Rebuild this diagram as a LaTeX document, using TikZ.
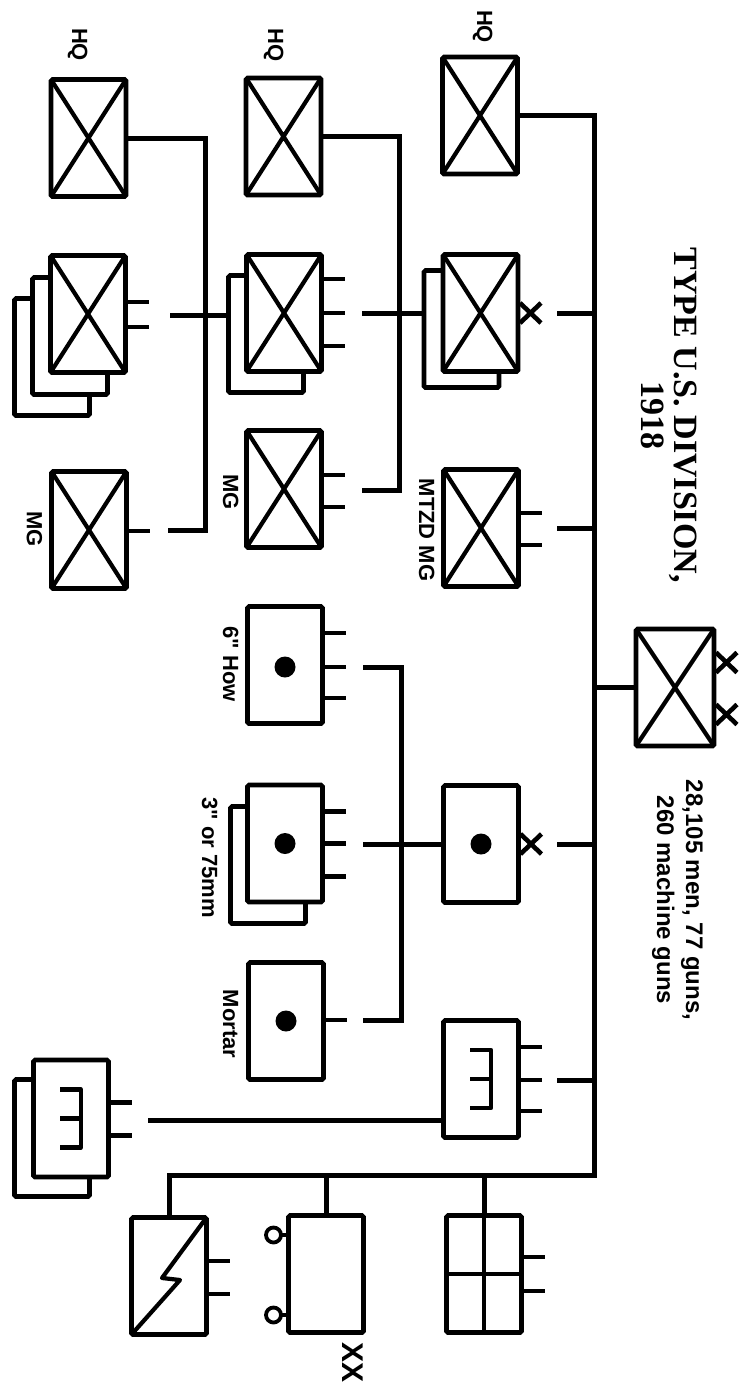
\documentclass[tikz,border=0pt]{standalone}
\usepackage{fontspec}
\setmainfont{Liberation Serif}
\newfontfamily\labfont{Liberation Sans}
\begin{document}
\begin{tikzpicture}[x=1pt,y=-1pt,
  unit/.style={draw, line width=4.6pt, fill=white, minimum width=75pt, minimum height=117pt, inner sep=0pt, outer sep=0pt, rounded corners=1.5pt},
  bus/.style={line width=5pt},
  stub/.style={line width=4.6pt},
  xline/.style={line width=4.2pt},
  symline/.style={line width=4.2pt, line join=round},
  lab/.style={font=\labfont\bfseries\fontsize{22}{24}\selectfont, rotate=-90, anchor=base, inner sep=0pt},
  stat/.style={font=\labfont\bfseries\fontsize{24}{26}\selectfont, rotate=-90, anchor=base, inner sep=0pt},
  ttl/.style={font=\bfseries\fontsize{34}{36}\selectfont, rotate=-90, anchor=base, inner sep=0pt}
]
\newcommand\infcross[1]{\draw[xline] (#1.north west) -- (#1.south east) (#1.north east) -- (#1.south west);}
\newcommand\sizebars[2]{\foreach \d in {#2}{\draw[stub] ([shift={(0,\d)}]#1.east) -- ++(23,0);}}
\newcommand\bdex[2]{\draw[stub] ([shift={(2,#2-10)}]#1.east) -- ++(21,20) ([shift={(2,#2+10)}]#1.east) -- ++(21,-20);}
\newcommand\engsym[1]{\draw[symline] ([shift={(-11,-29)}]#1.center) -- ([shift={(10,-29)}]#1.center) -- ([shift={(10,29)}]#1.center) -- ([shift={(-11,29)}]#1.center) ([shift={(-11,0)}]#1.center) -- ([shift={(10,0)}]#1.center);}
\useasboundingbox (0,0) rectangle (748,1387);
\fill[white] (0,0) rectangle (748,1387);

% ---------- left column (regiment) ----------
\node[unit] (LBn3) at (52,357) {};
\node[unit] (LBn2) at (70,336) {};
\node[unit] (LBn) at (88,314) {};
\node[unit] (LHQ) at (88.5,138) {};
\node[unit] (LMG) at (89,530) {};
% ---------- middle column (brigade, artillery) ----------
\node[unit] (MHQ) at (283.5,136.5) {};
\node[unit] (MRegt2) at (266,334) {};
\node[unit] (MRegt) at (284,313) {};
\node[unit] (MMG) at (284,489) {};
\node[unit] (How) at (285,665) {};
\node[unit] (Gun2) at (268,865) {};
\node[unit] (Gun) at (285,843.5) {};
\node[unit] (Mortar) at (286,1021) {};
% ---------- right column (division) ----------
\node[unit] (RHQ) at (480,115.5) {};
\node[unit] (Bde2) at (461.5,329) {};
\node[unit] (Bde) at (480.5,313) {};
\node[unit] (MTZD) at (481,528) {};
\node[unit] (ArtyBde) at (481,844) {};
\node[unit] (Engr) at (481,1079) {};
\node[unit] (Grid) at (484,1274) {};
% ---------- bottom ----------
\node[unit] (EngrBn2) at (52,1138) {};
\node[unit] (EngrBn) at (71,1118.5) {};
\node[unit] (Signal) at (169,1276) {};
\node[unit] (Train) at (326,1274) {};
% ---------- division ----------
\node[unit, minimum width=78pt, minimum height=117pt] (Div) at (675,687.5) {};

% crosses
\infcross{LHQ}\infcross{LBn}\infcross{LMG}
\infcross{MHQ}\infcross{MRegt}\infcross{MMG}
\infcross{RHQ}\infcross{Bde}\infcross{MTZD}\infcross{Div}

% size markers
\sizebars{LBn}{-12,13}
\sizebars{LMG}{1}
\sizebars{MRegt}{-34,0,33}
\sizebars{MMG}{-14,18}
\sizebars{How}{-32,2,33}
\sizebars{Gun}{-32,0,33}
\sizebars{Mortar}{-1}
\sizebars{MTZD}{-15,17}
\sizebars{Engr}{-32,1,32}
\sizebars{Grid}{-17,17}
\sizebars{EngrBn}{-16,17}
\sizebars{Signal}{-15,18}
\bdex{Bde}{0}
\bdex{ArtyBde}{0}
\bdex{Div}{-25}
\bdex{Div}{27}

% artillery dots
\fill (How.center) ++(0,2) circle (10.5pt);
\fill (Gun.center) circle (10.5pt);
\fill (Mortar.center) circle (10.5pt);
\fill (ArtyBde.center) circle (10.5pt);

% engineer symbols
\engsym{Engr}
\engsym{EngrBn}
% grid
\draw[symline] (Grid.north) -- (Grid.south) (Grid.west) -- (Grid.east);
% signal
\draw[symline] (Signal.north east) -- ([shift={(-7,2)}]Signal.center) -- ([shift={(11,4)}]Signal.center) -- (Signal.south west);
% train wheels
\draw[line width=3.8pt] ([shift={(-15,-39)}]Train.west) circle (7.5pt) ([shift={(-8,-39)}]Train.west) -- ([shift={(0,-39)}]Train.west);
\draw[line width=3.8pt] ([shift={(-15,41)}]Train.west) circle (7.5pt) ([shift={(-8,41)}]Train.west) -- ([shift={(0,41)}]Train.west);

% ---------- connectors ----------
\coordinate (lbus) at (205,0);
\coordinate (LBnEnd) at (170,315);
\coordinate (LMGEnd) at (168,530);
\draw[bus] (LHQ.east) -- (LHQ.east -| lbus) -- (lbus |- LMGEnd) -- (LMGEnd);
\draw[bus] (LBnEnd) -- (LBnEnd -| MRegt2.west);

\coordinate (mbus) at (399,0);
\coordinate (MRegtEnd) at (362,313);
\coordinate (MMGEnd) at (362,490);
\draw[bus] (MHQ.east) -- (MHQ.east -| mbus) -- (mbus |- MMGEnd) -- (MMGEnd);
\draw[bus] (MRegtEnd) -- (MRegtEnd -| Bde2.west);

\coordinate (abus) at (401,0);
\coordinate (HowEnd) at (363,667);
\coordinate (GunEnd) at (363,844);
\coordinate (MortarEnd) at (363,1020);
\draw[bus] (HowEnd) -- (HowEnd -| abus) -- (abus |- MortarEnd) -- (MortarEnd);
\draw[bus] (GunEnd) -- (ArtyBde.west);

\coordinate (dbus) at (594,0);
\coordinate (dbot) at (594,1175);
\coordinate (BdeEnd) at (557,313);
\coordinate (MTZDEnd) at (557,528);
\coordinate (ArtyEnd) at (557,844);
\coordinate (EngrEnd) at (557,1080);
\coordinate (EngrBnEnd) at (148,1120);
\draw[bus] (RHQ.east) -- (RHQ.east -| dbus) -- (dbot) -| (Signal.north);
\draw[bus] (Train.north) -- (Train.north |- dbot);
\draw[bus] (Grid.north) -- (Grid.north |- dbot);
\draw[bus] (BdeEnd) -- (BdeEnd -| dbus);
\draw[bus] (MTZDEnd) -- (MTZDEnd -| dbus);
\draw[bus] (ArtyEnd) -- (ArtyEnd -| dbus);
\draw[bus] (EngrEnd) -- (EngrEnd -| dbus);
\draw[bus] (Div.west) -- (Div.west -| dbus);
\draw[bus] (EngrBnEnd) -- (EngrBnEnd -| Engr.west);

% ---------- labels ----------
\node[lab] (tLHQ) at (72,44.5) {HQ};
\node[lab] (tMHQ) at (268,45) {HQ};
\node[lab] (tRHQ) at (477,26.5) {HQ};
\node[lab] (tLMG) at (27,529) {MG};
\node[lab] (tMMG) at (223,492) {MG};
\node[lab] (tMTZD) at (419,530) {MTZD MG};
\node[lab] (tHow) at (223,664) {6" How};
\node[lab] (tGun) at (202,857.5) {3" or 75mm};
\node[lab] (tMortar) at (223,1024) {Mortar};
\node[lab, font=\labfont\bfseries\fontsize{30}{32}\selectfont] (tXX) at (342,1362) {XX};

\node[ttl] (title) at (674,415) {TYPE U.S. DIVISION,};
\node[ttl] (year) at (641,415) {1918};
\node[stat] (stat1) at (686,900) {28,105 men, 77 guns,};
\node[stat] (stat2) at (657,900) {260 machine guns};
\end{tikzpicture}
\end{document}
